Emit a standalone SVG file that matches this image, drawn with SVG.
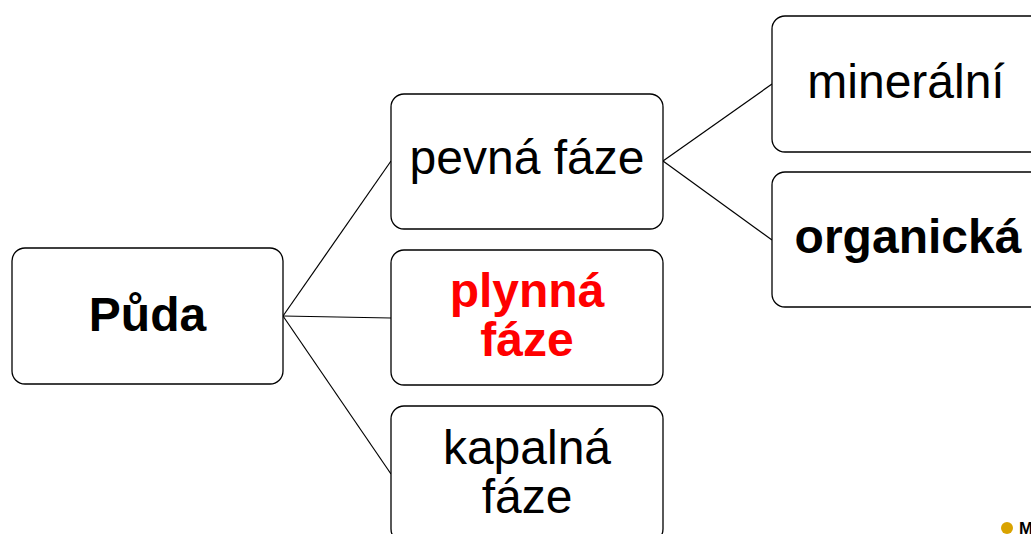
<svg xmlns="http://www.w3.org/2000/svg" width="1031" height="534" viewBox="0 0 1031 534">
  <style>
    .box { fill: #ffffff; stroke: #000000; stroke-width: 1.3; }
    .lbl { font-family: "Liberation Sans", Arial, sans-serif; font-size: 48px; fill: #000000; text-anchor: middle; }
    .bold { font-weight: bold; }
    .red { fill: #ff0000; }
    .link { stroke: #000000; stroke-width: 1.2; fill: none; }
  </style>
  <rect width="1031" height="534" fill="#ffffff"/>

  <!-- connectors -->
  <g id="connectors">
    <line class="link" x1="283" y1="316" x2="391" y2="161"/>
    <line class="link" x1="283" y1="316" x2="391" y2="318"/>
    <line class="link" x1="283" y1="316" x2="391" y2="474"/>
    <line class="link" x1="663" y1="161" x2="772" y2="84"/>
    <line class="link" x1="663" y1="161" x2="772" y2="240"/>
  </g>

  <g id="puda">
    <rect class="box" x="12" y="248" width="271" height="136" rx="13"/>
    <text class="lbl bold" x="147.5" y="331">Půda</text>
  </g>

  <g id="pevna-faze">
    <rect class="box" x="391" y="94" width="272" height="135" rx="13"/>
    <text class="lbl" x="527" y="174">pevná fáze</text>
  </g>

  <g id="plynna-faze">
    <rect class="box" x="391" y="250" width="272" height="135" rx="13"/>
    <text class="lbl bold red" x="527" y="307">plynná</text>
    <text class="lbl bold red" x="527" y="356">fáze</text>
  </g>

  <g id="kapalna-faze">
    <rect class="box" x="391" y="406" width="272" height="136" rx="13"/>
    <text class="lbl" x="527" y="464">kapalná</text>
    <text class="lbl" x="527" y="513">fáze</text>
  </g>

  <g id="mineralni">
    <rect class="box" x="772" y="16" width="272" height="136" rx="13"/>
    <text class="lbl" x="906" y="98">minerální</text>
  </g>

  <g id="organicka">
    <rect class="box" x="772" y="172" width="272" height="135" rx="13"/>
    <text class="lbl bold" x="908" y="253">organická</text>
  </g>

  <!-- corner mark -->
  <g id="corner-mark">
    <circle cx="1007" cy="528" r="6" fill="#d9a300"/>
    <text x="1019" y="534" font-family="'Liberation Sans', Arial, sans-serif" font-size="17" font-weight="bold" fill="#000000">M</text>
  </g>
</svg>
